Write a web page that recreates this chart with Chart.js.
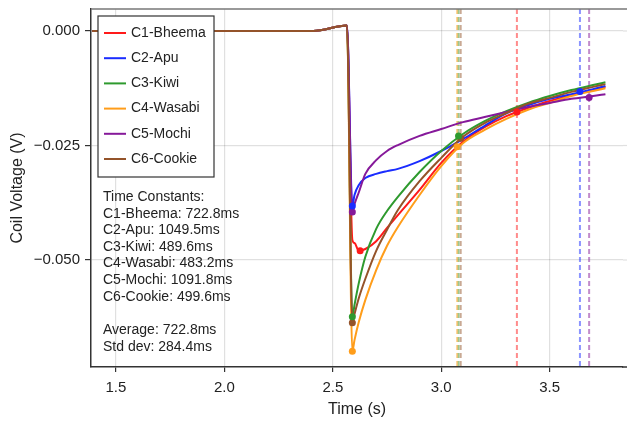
<!DOCTYPE html>
<html>
<head>
<meta charset="utf-8">
<script src="https://cdn.jsdelivr.net/npm/chart.js@4.4.1/dist/chart.umd.min.js"></script>
<style>
  html, body { margin:0; padding:0; background:#fff; }
  #wrap { width:627px; height:422px; position:relative; }
</style>
</head>
<body>
<div id="wrap"><canvas id="coilChart" width="627" height="422"></canvas></div>
<script>
// Coil voltage decay per coil (V)
const timeS = [1.39, 2.41, 2.565, 2.59, 2.60, 2.62, 2.65, 2.70, 2.75, 2.80, 2.90, 3.00, 3.10, 3.20, 3.30, 3.40, 3.50, 3.60, 3.70, 3.757];

const c1Bheema = [0, 0, 0.0012, -0.0456, -0.0463, -0.0480, -0.0476, -0.0459, -0.0430, -0.0402, -0.0347, -0.0288, -0.0242, -0.0210, -0.0186, -0.0168, -0.0153, -0.0140, -0.0129, -0.0122];
const c2Apu    = [0, 0, 0.0012, -0.0382, -0.0358, -0.0336, -0.0321, -0.0312, -0.0306, -0.0301, -0.0284, -0.0262, -0.0236, -0.0207, -0.0180, -0.0162, -0.0148, -0.0138, -0.0127, -0.0120];
const c3Kiwi   = [0, 0, 0.0012, -0.0624, -0.0598, -0.0550, -0.0493, -0.0432, -0.0393, -0.0362, -0.0308, -0.0262, -0.0225, -0.0197, -0.0175, -0.0157, -0.0142, -0.0129, -0.0118, -0.0112];
const c4Wasabi = [0, 0, 0.0012, -0.0699, -0.0675, -0.0635, -0.0587, -0.0522, -0.0469, -0.0428, -0.0358, -0.0295, -0.0245, -0.0216, -0.0192, -0.0172, -0.0157, -0.0142, -0.0131, -0.0125];
const c5Mochi  = [0, 0, 0.0012, -0.0395, -0.0378, -0.0352, -0.0312, -0.0282, -0.0262, -0.0249, -0.0229, -0.0214, -0.0199, -0.0188, -0.0177, -0.0166, -0.0157, -0.0148, -0.0142, -0.0138];
const c6Cookie = [0, 0, 0.0012, -0.0637, -0.0618, -0.0583, -0.0541, -0.0480, -0.0434, -0.0391, -0.0328, -0.0277, -0.0231, -0.0201, -0.0179, -0.0159, -0.0146, -0.0133, -0.0122, -0.0116];

const coilNames = ["C1-Bheema", "C2-Apu", "C3-Kiwi", "C4-Wasabi", "C5-Mochi", "C6-Cookie"];
const coilColors = ["#ff1a1a", "#1a2cff", "#2e9a2e", "#ff9d1a", "#86199a", "#94532a"];
const tauMs = [722.8, 1049.5, 489.6, 483.2, 1091.8, 499.6];
// decay onset (s) and the marked values at onset and at onset+tau
const onsetS = [2.626, 2.59, 2.59, 2.59, 2.59, 2.59];
const onsetV = [-0.0480, -0.0382, -0.0624, -0.0699, -0.0395, -0.0637];
const tauV = [-0.0177, -0.0132, -0.0229, -0.0253, -0.0145, -0.0234];
const summaryLines = ["Average: 722.8ms", "Std dev: 284.4ms"];

const xTicks = [1.5, 2.0, 2.5, 3.0, 3.5];
const yTicks = [0, -0.025, -0.05];

const seriesVals = [c1Bheema, c2Apu, c3Kiwi, c4Wasabi, c5Mochi, c6Cookie];
const FONT = "'Liberation Sans', Arial, Helvetica, sans-serif";

function hexA(hex, a){
  const n = parseInt(hex.slice(1), 16);
  return `rgba(${(n>>16)&255},${(n>>8)&255},${n&255},${a})`;
}

const datasets = [];
seriesVals.forEach((vals, i) => {
  datasets.push({
    label: coilNames[i],
    data: timeS.map((t, k) => ({x: t, y: vals[k]})),
    borderColor: coilColors[i],
    borderWidth: 2,
    pointRadius: 0,
    cubicInterpolationMode: "monotone",
    order: 10 - i
  });
});
seriesVals.forEach((vals, i) => {
  datasets.push({
    label: coilNames[i] + " markers",
    data: [{x: onsetS[i], y: onsetV[i]}, {x: onsetS[i] + tauMs[i]/1000, y: tauV[i]}],
    showLine: false,
    pointRadius: 3.5,
    pointBackgroundColor: coilColors[i],
    pointBorderColor: coilColors[i],
    pointBorderWidth: 0,
    order: 1
  });
});

// dashed lines at onset + tau, drawn behind the curves
const tauLines = {
  id: "tauLines",
  beforeDatasetsDraw(chart){
    const {ctx, chartArea, scales} = chart;
    ctx.save();
    ctx.setLineDash([5, 3]);
    ctx.lineWidth = 2;
    tauMs.forEach((tau, i) => {
      const x = scales.x.getPixelForValue(onsetS[i] + tau/1000);
      ctx.strokeStyle = hexA(coilColors[i], 0.5);
      ctx.beginPath();
      ctx.moveTo(x, chartArea.top);
      ctx.lineTo(x, chartArea.bottom);
      ctx.stroke();
    });
    ctx.restore();
  }
};

// extend horizontal grid lines to the canvas edge
function extendYGrid(chart, ctx){
  const {chartArea, width, scales} = chart;
  yTicks.forEach(v => {
    const y = scales.y.getPixelForValue(v);
    ctx.beginPath();
    ctx.moveTo(chartArea.right, y);
    ctx.lineTo(width, y);
    ctx.stroke();
  });
}

// frame, legend box and the time-constant text
const overlay = {
  id: "overlay",
  afterDraw(chart){
    const {ctx, chartArea, width} = chart;
    ctx.save();
    ctx.strokeStyle = "#777";
    ctx.lineWidth = 1.5;
    ctx.beginPath();
    ctx.moveTo(chartArea.left, chartArea.top);
    ctx.lineTo(width, chartArea.top);
    ctx.stroke();
    // plot frame runs on past the canvas edge
    ctx.strokeStyle = "#333";
    ctx.beginPath();
    ctx.moveTo(chartArea.right - 1, chartArea.bottom);
    ctx.lineTo(width, chartArea.bottom);
    ctx.stroke();
    ctx.strokeStyle = "rgba(0,0,0,0.12)";
    ctx.lineWidth = 1.2;
    extendYGrid(chart, ctx);

    // legend
    const lx = 98, ly = 16, lw = 116, lh = 161;
    ctx.fillStyle = "#fff";
    ctx.fillRect(lx, ly, lw, lh);
    ctx.strokeStyle = "#333";
    ctx.lineWidth = 1.2;
    ctx.strokeRect(lx, ly, lw, lh);
    ctx.font = "14px " + FONT;
    ctx.textBaseline = "middle";
    ctx.textAlign = "left";
    coilNames.forEach((name, i) => {
      const y = 33 + i*25.2;
      ctx.strokeStyle = coilColors[i];
      ctx.lineWidth = 2;
      ctx.beginPath();
      ctx.moveTo(104, y);
      ctx.lineTo(126, y);
      ctx.stroke();
      ctx.fillStyle = "#222";
      ctx.fillText(name, 131, y);
    });

    // time constants text
    const lines = ["Time Constants:"]
      .concat(coilNames.map((n, i) => `${n}: ${tauMs[i].toFixed(1)}ms`))
      .concat([""], summaryLines);
    ctx.font = "14px " + FONT;
    ctx.fillStyle = "#222";
    lines.forEach((s, i) => {
      ctx.fillText(s, 103, 197 + i*16.65);
    });
    ctx.restore();
  }
};

const fmtY = v => (v < 0 ? "\u2212" : "") + Math.abs(v).toFixed(3);

new Chart(document.getElementById("coilChart"), {
  type: "line",
  data: { datasets },
  options: {
    responsive: false,
    animation: false,
    layout: { padding: { top: 9, right: 0, left: 0, bottom: 0 } },
    plugins: { legend: { display: false }, tooltip: { enabled: false } },
    scales: {
      x: {
        type: "linear",
        min: 1.385, max: 3.838,
        afterBuildTicks: s => { s.ticks = xTicks.map(v => ({value: v})); },
        afterFit: s => { s.height = 55; s.paddingLeft = 0; s.paddingRight = 0; },
        ticks: { color: "#222", font: { size: 15, family: FONT }, padding: 7, callback: v => v.toFixed(1), maxRotation: 0 },
        grid: { color: "rgba(0,0,0,0.12)", lineWidth: 1.2, tickColor: "#333", tickLength: 5, tickWidth: 1.2 },
        border: { color: "#333", width: 1.5 },
        title: { display: true, text: "Time (s)", color: "#222", font: { size: 16, family: FONT }, padding: { top: 0, bottom: 2.4 } }
      },
      y: {
        min: -0.07336, max: 0.0048,
        afterBuildTicks: s => { s.ticks = yTicks.map(v => ({value: v})); },
        afterFit: s => { s.width = 91; s.paddingTop = 0; s.paddingBottom = 0; },
        ticks: { color: "#222", font: { size: 15, family: FONT }, padding: 5, callback: fmtY },
        grid: { color: "rgba(0,0,0,0.12)", lineWidth: 1.2, tickColor: "#333", tickLength: 6, tickWidth: 1.2 },
        border: { color: "#333", width: 1.5 },
        title: { display: true, text: "Coil Voltage (V)", color: "#222", font: { size: 16, family: FONT }, padding: { top: 8.4, bottom: 0 } }
      }
    }
  },
  plugins: [tauLines, overlay]
});
</script>
</body>
</html>
